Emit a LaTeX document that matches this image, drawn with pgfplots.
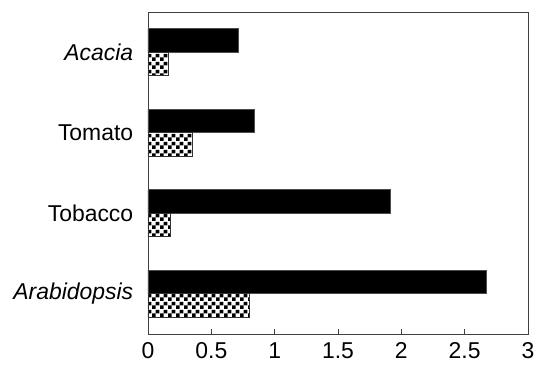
\documentclass[border=0pt]{standalone}
\usepackage{pgfplots}
\pgfplotsset{compat=1.18}
\usepackage{fontspec}
\setmainfont{Liberation Sans}
\usetikzlibrary{patterns.meta}
\tikzdeclarepattern{
  name=mycheck,
  type=uncolored,
  bottom left={(0,0)},
  top right={(7.6bp,7.6bp)},
  tile size={(7.6bp,7.6bp)},
  code={
    \fill (0,0) rectangle (3.8bp,3.8bp);
    \fill (3.8bp,3.8bp) rectangle (7.6bp,7.6bp);
  }
}
\begin{document}
\fontsize{23}{27}\selectfont
\begin{tikzpicture}
\useasboundingbox (-148bp,-36bp) rectangle (389bp,334bp);
\begin{axis}[
  at={(0,0)}, anchor=south west,
  scale only axis,
  width=380bp, height=322bp,
  xmin=0, xmax=3, ymin=-0.5, ymax=3.5,
  xtick={0,0.5,1,1.5,2,2.5,3},
  xticklabels={0,0.5,1,1.5,2,2.5,3},
  xtick pos=bottom,
  tick align=inside,
  major tick length=5bp,
  ytick={0,1,2,3},
  yticklabels={\textit{Arabidopsis},Tobacco,Tomato,\textit{Acacia}},
  ytick style={draw=none},
  yticklabel style={xshift=-2bp},
  xticklabel style={yshift=-1bp},
  tick label style={font=\fontsize{23}{27}\selectfont},
  axis line style={line width=0.9bp, draw=black!75},
  xtick style={line width=0.9bp, draw=black!75},
  xbar,
  bar width=23.5bp,
  /pgf/number format/assume math mode=true,
]
\addplot[fill=black, draw=black!70, line width=0.6bp, bar shift=11.75bp]
  coordinates {(2.67,0) (1.915,1) (0.84,2) (0.71,3)};
\addplot[draw=black!80, line width=0.6bp, pattern=mycheck, pattern color=black, bar shift=-11.75bp]
  coordinates {(0.80,0) (0.18,1) (0.35,2) (0.16,3)};
\end{axis}
\end{tikzpicture}
\end{document}
